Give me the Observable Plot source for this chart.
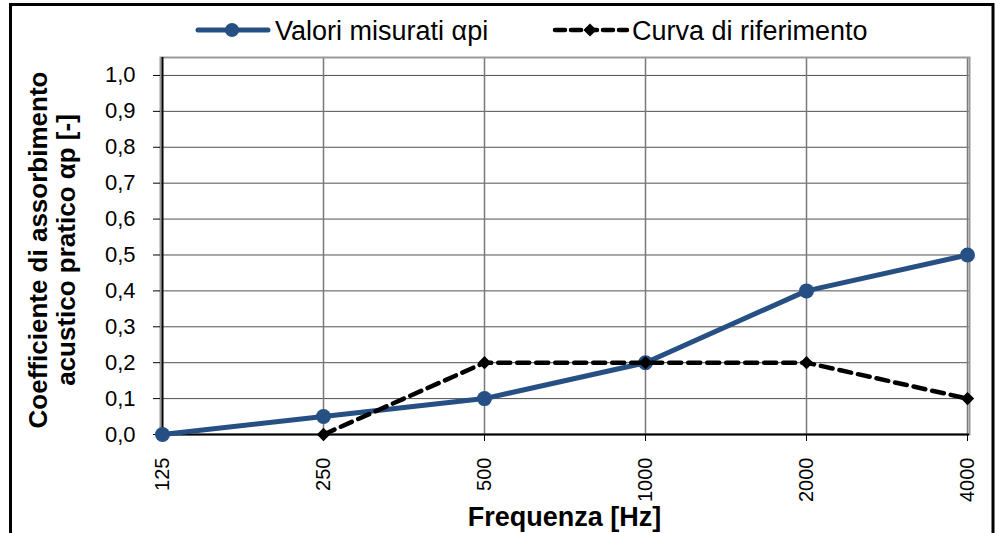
<!DOCTYPE html>
<html><head><meta charset="utf-8">
<script src="https://cdn.jsdelivr.net/npm/d3@7"></script>
<script src="https://cdn.jsdelivr.net/npm/@observablehq/plot@0.6"></script>
<style>body{margin:0;background:#fff} svg{display:block}</style>
</head><body><div id="chart"></div>
<script>
const frequencies = ["125", "250", "500", "1000", "2000", "4000"];
const measured = [0, 0.05, 0.1, 0.2, 0.4, 0.5];
const referenceFreqs = ["250", "500", "1000", "2000", "4000"];
const reference = [0, 0.2, 0.2, 0.2, 0.1];
const yTicks = [0, 0.1, 0.2, 0.3, 0.4, 0.5, 0.6, 0.7, 0.8, 0.9, 1.0];
const seriesNames = ["Valori misurati αpi", "Curva di riferimento"];
const xTitle = "Frequenza [Hz]";
const yTitleLines = ["Coefficiente di assorbimento", "acustico pratico αp [-]"];

const blue = "#264f84";
const font = "'Liberation Sans', Arial, sans-serif";

const measuredData = frequencies.map((f, i) => ({f, v: measured[i]}));
const referenceData = referenceFreqs.map((f, i) => ({f, v: reference[i]}));

function decorations(index, scales, values, dims) {
  const g = d3.create("svg:g").attr("font-family", font);
  // outer border
  g.append("rect").attr("x", 10.5).attr("y", 4.5).attr("width", 982.5).attr("height", 600)
    .attr("fill", "none").attr("stroke", "#000").attr("stroke-width", 3);
  // legend
  const l1 = g.append("g");
  l1.append("line").attr("x1", 198).attr("x2", 268).attr("y1", 30).attr("y2", 30)
    .attr("stroke", blue).attr("stroke-width", 5).attr("stroke-linecap", "round");
  l1.append("circle").attr("cx", 232).attr("cy", 30).attr("r", 7).attr("fill", blue);
  l1.append("text").attr("x", 275).attr("y", 40).attr("text-anchor", "start")
    .attr("font-size", 27).attr("fill", "#000").text(seriesNames[0]);
  const l2 = g.append("g");
  l2.append("line").attr("x1", 555).attr("x2", 627).attr("y1", 30).attr("y2", 30)
    .attr("stroke", "#000").attr("stroke-width", 4.5).attr("stroke-dasharray", "10,6").attr("stroke-linecap", "round");
  l2.append("path").attr("d", d3.symbol(d3.symbolDiamond2, 110)()).attr("transform", "translate(590,30)").attr("fill", "#000");
  l2.append("text").attr("x", 632).attr("y", 40).attr("text-anchor", "start")
    .attr("font-size", 27).attr("fill", "#000").text(seriesNames[1]);
  // axis titles
  const cx = (dims.marginLeft + dims.width - dims.marginRight) / 2;
  g.append("text").attr("x", cx).attr("y", 526).attr("text-anchor", "middle")
    .attr("font-size", 27).attr("font-weight", "bold").attr("fill", "#000").text(xTitle);
  const cy = 250;
  [47, 75].forEach((x, i) => {
    g.append("text").attr("transform", `translate(${x},${cy}) rotate(-90)`).attr("text-anchor", "middle")
      .attr("font-size", 26).attr("font-weight", "bold").attr("fill", "#000").text(yTitleLines[i]);
  });
  return g.node();
}

const chart = Plot.plot({
  width: 998,
  height: 533,
  marginLeft: 160,
  marginRight: 29,
  marginTop: 57,
  marginBottom: 99,
  style: {fontFamily: font, fontSize: "21px", color: "#000", background: "#fff"},
  x: {type: "point", domain: frequencies, padding: 0, label: null},
  y: {domain: [0, 1.05], label: null},
  marks: [
    Plot.ruleY(yTicks.filter(d => d > 0), {stroke: "#505050", strokeWidth: 1}),
    Plot.ruleX(frequencies.slice(1), {stroke: "#7a7a7a", strokeWidth: 1.5}),
    Plot.frame({stroke: "#999", strokeWidth: 2}),
    Plot.axisY({ticks: yTicks, tickFormat: d => d.toFixed(1).replace(".", ","), tickSize: 7, tickPadding: 18, fontSize: 22, stroke: "#000", label: null}),
    Plot.axisX({tickRotate: -90, tickSize: 7, tickPadding: 16, fontSize: 20, stroke: "#000", label: null}),
    Plot.ruleX([frequencies[0]], {stroke: "#000", strokeWidth: 2}),
    Plot.ruleY([0], {stroke: "#000", strokeWidth: 2}),
    Plot.line(measuredData, {x: "f", y: "v", stroke: blue, strokeWidth: 5}),
    Plot.dot(measuredData, {x: "f", y: "v", r: 7.5, fill: blue, stroke: "none"}),
    Plot.line(referenceData, {x: "f", y: "v", stroke: "#000", strokeWidth: 4.5, strokeDasharray: "12,7"}),
    Plot.dot(referenceData, {x: "f", y: "v", symbol: "diamond2", r: 6, fill: "#000", stroke: "none"}),
    decorations
  ]
});
document.getElementById("chart").append(chart);
</script>
</body></html>
